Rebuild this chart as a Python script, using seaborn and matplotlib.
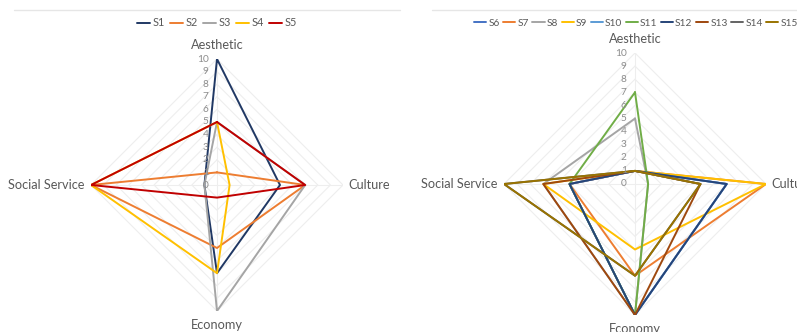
import numpy as np
import pandas as pd
import matplotlib
matplotlib.use('Agg')
import matplotlib.pyplot as plt
import seaborn as sns

sns.set_style('white')
plt.rcParams['font.family'] = ['Lato', 'DejaVu Sans']

# axes of the radar, clockwise from the top
categories = ['Aesthetic', 'Culture', 'Economy', 'Social Service']

# left chart
left_names = ['S1', 'S2', 'S3', 'S4', 'S5']
s1 = [10, 5, 7, 1]
s2 = [1, 7, 5, 10]
s3 = [5, 7, 10, 1]
s4 = [5, 1, 7, 10]
s5 = [5, 7, 1, 10]
left_colors = ['#203864', '#ED7D31', '#A5A5A5', '#FFC000', '#C00000']

# right chart
right_names = ['S6', 'S7', 'S8', 'S9', 'S10', 'S11', 'S12', 'S13', 'S14', 'S15']
s6 = [1, 7, 10, 5]
s7 = [1, 10, 7, 5]
s8 = [5, 1, 10, 7]
s9 = [1, 10, 5, 7]
s10 = [1, 7, 10, 5]
s11 = [7, 1, 10, 5]
s12 = [1, 7, 10, 5]
s13 = [1, 5, 10, 7]
s14 = [1, 5, 7, 10]
s15 = [1, 5, 7, 10]
right_colors = ['#4472C4', '#ED7D31', '#A5A5A5', '#FFC000', '#5B9BD5',
                '#70AD47', '#264478', '#9E480E', '#636363', '#997300']

ticks = list(range(0, 11))

angles = np.linspace(0, 2 * np.pi, len(categories), endpoint=False)


def to_long(names, values):
    rows = []
    for name, vals in zip(names, values):
        # close the polygon by repeating the first point
        for i in list(range(len(categories))) + [0]:
            rows.append({'series': name, 'theta': angles[i], 'value': vals[i]})
    return pd.DataFrame(rows)


def radar(ax, df, names, colors, legend_x, leg_fs, leg_cs):
    ax.set_theta_zero_location('N')
    ax.set_theta_direction(-1)
    ax.set_ylim(0, 10)
    ax.grid(False)
    ax.spines['polar'].set_visible(False)
    ax.set_xticks([])
    ax.set_yticks([])
    ax.set_facecolor('none')

    # diamond gridlines + spokes
    closed = np.append(angles, angles[0])
    for r in ticks[1:]:
        ax.plot(closed, [r] * len(closed), color='#EEEEEE', lw=0.8, zorder=0)
    for a in angles:
        ax.plot([a, a], [0, 10], color='#EEEEEE', lw=0.8, zorder=0)

    sns.lineplot(data=df, x='theta', y='value', hue='series', hue_order=names,
                 palette=colors, sort=False, estimator=None, units='series',
                 lw=1.4, ax=ax, legend=True)
    ax.set_xlabel('')
    ax.set_ylabel('')

    for t in ticks:
        ax.annotate(str(t), xy=(0, t), xytext=(-6, 0), textcoords='offset points',
                    ha='right', va='center', fontsize=7.3, color='#8C8C8C')

    offsets = [(0, 10), (4, 0), (0, -10), (-4.5, 0)]
    aligns = [('center', 'center'), ('left', 'center'), ('center', 'center'),
              ('right', 'center')]
    for a, lab, off, (ha, va) in zip(angles, categories, offsets, aligns):
        ax.annotate(lab, xy=(a, 10), xytext=off, textcoords='offset points',
                    ha=ha, va=va, fontsize=9.2, color='#595959',
                    annotation_clip=False)

    sns.move_legend(ax, 'center', bbox_to_anchor=(legend_x, 1 - 23 / 332),
                    bbox_transform=ax.figure.transFigure, ncol=len(names),
                    frameon=False, title=None, fontsize=leg_fs,
                    handlelength=1.2, handletextpad=0.2, columnspacing=leg_cs,
                    labelcolor='#595959', borderaxespad=0, borderpad=0)


fig = plt.figure(figsize=(7.97, 3.32), dpi=100)
W, H = 797, 332

ax1 = fig.add_axes([91 / W, 21 / H, 252 / W, 252 / H], projection='polar')
radar(ax1, to_long(left_names, [s1, s2, s3, s4, s5]), left_names, left_colors,
      217 / W, 7.8, 0.5)

ax2 = fig.add_axes([504 / W, 17 / H, 262 / W, 262 / H], projection='polar')
radar(ax2, to_long(right_names, [s6, s7, s8, s9, s10, s11, s12, s13, s14, s15]),
      right_names, right_colors, 636 / W, 7.3, 0.35)

# faint chart-area top borders
fig.add_artist(plt.Line2D([14 / W, 400 / W], [1 - 10 / H] * 2, color='#E6E6E6', lw=1))
fig.add_artist(plt.Line2D([432 / W, 1], [1 - 10 / H] * 2, color='#E6E6E6', lw=1))

fig.savefig('out.png', dpi=100)
